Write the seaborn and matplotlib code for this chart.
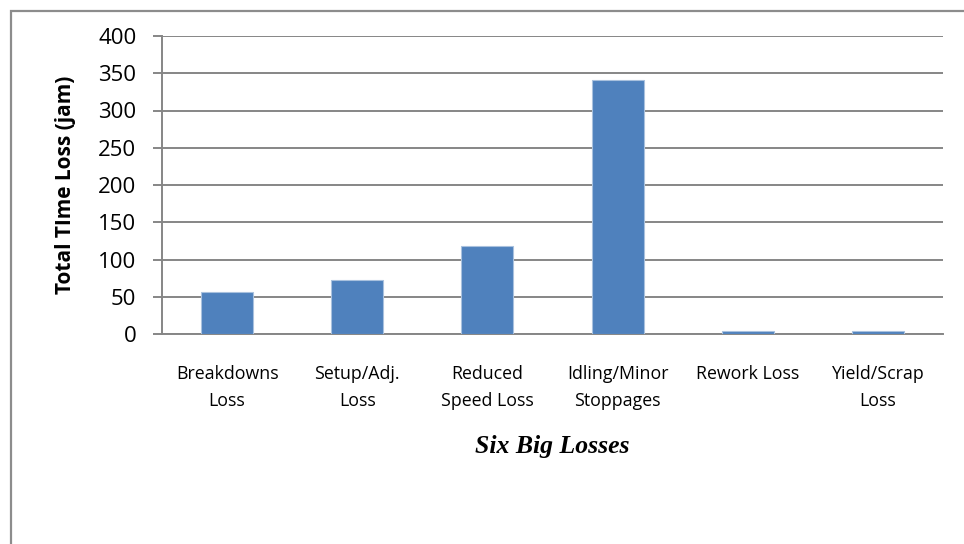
import numpy as np
import pandas as pd
import seaborn as sns
from matplotlib import pyplot as plt
from matplotlib.patches import Rectangle

sns.set_theme(style="white")
plt.rcParams['font.family'] = ['Open Sans', 'DejaVu Sans']
plt.rcParams['text.color'] = 'black'
plt.rcParams['axes.labelcolor'] = 'black'
plt.rcParams['xtick.labelcolor'] = 'black'
plt.rcParams['ytick.labelcolor'] = 'black'

categories = ['Breakdowns\nLoss', 'Setup/Adj.\nLoss', 'Reduced\nSpeed Loss',
              'Idling/Minor\nStoppages', 'Rework Loss', 'Yield/Scrap\nLoss']
time_loss = [56, 73, 118, 341, 4, 4.5]
y_ticks = [0, 50, 100, 150, 200, 250, 300, 350, 400]

df = pd.DataFrame({'loss': categories, 'jam': time_loss})

grid_col = '#868686'

fig = plt.figure(figsize=(9.64, 5.44), dpi=100)
ax = fig.add_axes([162 / 964, 1 - 334 / 544, (943 - 162) / 964, (334 - 36) / 544])

sns.barplot(data=df, x='loss', y='jam', ax=ax, color='#4F81BD', saturation=1,
            width=0.4, edgecolor='#a9c1de', linewidth=0.8, zorder=3)

ax.set_ylim(0, 400)
ax.set_xlim(-0.5, 5.5)
ax.set_yticks(y_ticks)
ax.set_yticklabels([str(t) for t in y_ticks], fontsize=16)
ax.yaxis.grid(True, color=grid_col, linewidth=1.4, zorder=0)
ax.set_axisbelow(True)
ax.tick_params(axis='y', length=6.5, width=1.4, color=grid_col, pad=12, left=True)
ax.tick_params(axis='x', length=0, pad=22, labelsize=12.8)
for lbl in ax.get_xticklabels():
    lbl.set_linespacing(1.65)

for s in ['top', 'right']:
    ax.spines[s].set_visible(False)
for s in ['left', 'bottom']:
    ax.spines[s].set_color(grid_col)
    ax.spines[s].set_linewidth(1.4)

ax.set_ylabel('Total TIme Loss (jam)', fontsize=15, fontweight='bold', labelpad=16)
ax.set_xlabel('Six Big Losses', fontsize=18.5, fontweight='bold', style='italic',
              family=['Liberation Serif', 'DejaVu Serif'], labelpad=18)

# outer chart frame (cut off at the right and bottom)
fig.add_artist(Rectangle((11 / 964, -0.1), 2, 1 - 11 / 544 + 0.1, transform=fig.transFigure,
                         fill=False, edgecolor='#8c8c8c', linewidth=1.6))

fig.savefig('out.png', dpi=100)
